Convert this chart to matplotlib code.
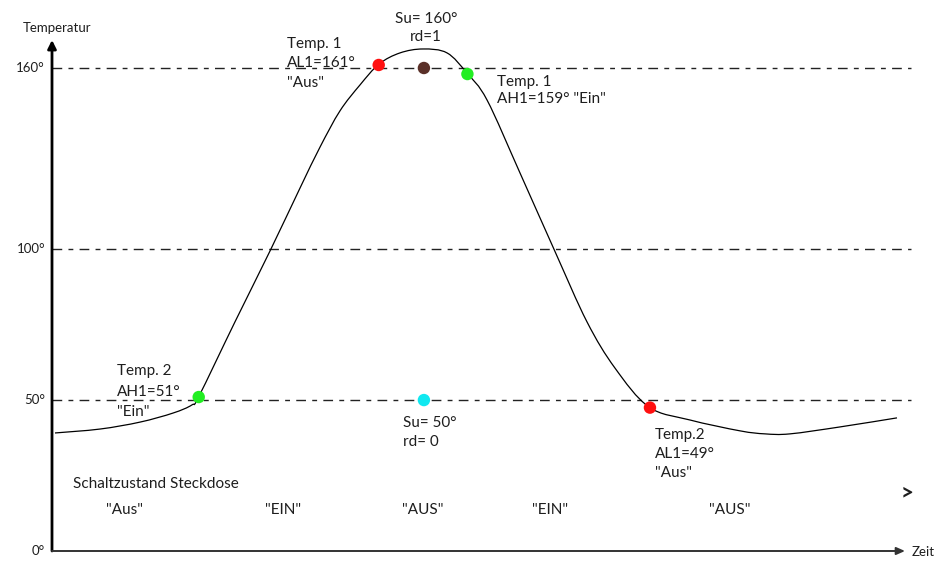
import matplotlib
matplotlib.use("Agg")
import matplotlib.pyplot as plt
from matplotlib.path import Path
from matplotlib.patches import PathPatch

# ---------------- data ----------------
# temperature curve (time in arbitrary units 0..100, temperature in degrees)
time_pts = [0.35, 5.63, 10.32, 14.19, 16.41, 17.23, 21.45, 25.56, 29.07, 31.42, 33.76, 36.11,
            38.34, 40.80, 43.49, 46.31, 48.65, 51.00, 54.87, 58.97, 62.72, 66.00,
            69.99, 74.79, 80.66, 83.59, 86.52, 92.38, 99.06]
temp_pts = [39.1, 40.4, 42.7, 45.7, 48.4, 51.3, 75.9, 99.4, 120.2, 133.8, 145.8, 154.4,
            161.3, 165.0, 166.3, 165.0, 158.3, 149.4, 125.2, 99.2, 75.9, 60.6,
            47.7, 43.4, 39.8, 38.8, 38.8, 41.1, 44.1]

# switching points
marker_time = [38.3, 43.6, 48.7, 17.2, 70.1, 43.6]
marker_temp = [161.0, 160.0, 158.0, 51.0, 47.5, 50.0]
marker_colors = ["#ff1010", "#5a3028", "#22ee22", "#22ee22", "#ff1010", "#10e8f0"]

# reference levels (dash-dot lines) and y tick labels
level_vals = [50, 100, 160]
ytick_vals = [0, 50, 100, 160]
ytick_labels = ["0°", "50°", "100°", "160°"]

# state labels
state_labels = ['"Aus"', '"EIN"', '"AUS"', '"EIN"', '"AUS"']

# ---------------- figure ----------------
W, H = 945, 562
fig = plt.figure(figsize=(W / 100, H / 100), dpi=100)
ax = fig.add_axes([0, 0, 1, 1])
ax.set_axis_off()

# pixel mapping: t=0 -> x 52px, t=100 -> x 905px ; T=0 -> y 551px, T=160 -> y 68px
sx = (905 - 52) / 100.0
sy = (551 - 68) / 160.0
ax.set_xlim(-52 / sx, (W - 52) / sx)
ax.set_ylim(-(H - 551) / sy, 551 / sy)

FONT = "Lato"
TXT = "#1e1e1e"
FS = 11

def ftext(px, py, s, ha="left", va="center", **kw):
    fig.text(px / W, 1 - py / H, s, ha=ha, va=va, family=FONT,
             fontsize=kw.pop("fontsize", FS), color=kw.pop("color", TXT),
             fontweight=kw.pop("fontweight", "normal"), **kw)

# reference lines
x_end = (911 - 52) / sx
for lv in level_vals:
    ax.plot([0, x_end], [lv, lv], color="#222222", lw=1.0,
            dashes=(7, 4.5, 3.5, 4.5), solid_capstyle="butt", zorder=1)

# axes arrows
ax.annotate("", xy=(0, (551 - 40) / sy), xytext=(0, 0),
            arrowprops=dict(arrowstyle="-|>,head_length=0.5,head_width=0.25", lw=2.0,
                            color="black", shrinkA=0, shrinkB=0), zorder=3)
ax.annotate("", xy=(100, 0), xytext=(0, 0),
            arrowprops=dict(arrowstyle="-|>,head_length=0.5,head_width=0.22", lw=1.4,
                            color="#333333", shrinkA=0, shrinkB=0), zorder=3)

# smooth curve through the read points (Catmull-Rom as cubic Bezier path)
verts = [(time_pts[0], temp_pts[0])]
codes = [Path.MOVETO]
n = len(time_pts)
for i in range(n - 1):
    p0 = (time_pts[max(i - 1, 0)], temp_pts[max(i - 1, 0)])
    p1 = (time_pts[i], temp_pts[i])
    p2 = (time_pts[i + 1], temp_pts[i + 1])
    p3 = (time_pts[min(i + 2, n - 1)], temp_pts[min(i + 2, n - 1)])
    c1 = (p1[0] + (p2[0] - p0[0]) / 6, p1[1] + (p2[1] - p0[1]) / 6)
    c2 = (p2[0] - (p3[0] - p1[0]) / 6, p2[1] - (p3[1] - p1[1]) / 6)
    verts += [c1, c2, p2]
    codes += [Path.CURVE4] * 3
ax.add_patch(PathPatch(Path(verts, codes), fill=False, ec="black", lw=0.9, zorder=2))

# markers
ax.scatter(marker_time, marker_temp, s=80, c=marker_colors, zorder=4, linewidths=0)

# y tick labels
for v, lab in zip(ytick_vals, ytick_labels):
    ax.text(-7 / sx, v, lab, ha="right", va="center", family=FONT, fontsize=FS - 1.5,
            color=TXT)

# axis titles
ftext(57, 28, "Temperatur", ha="center", fontsize=FS - 1.5)
ftext(912, 552, "Zeit", fontsize=FS - 1.5)

# annotations
ftext(426, 19, "Su= 160°", ha="center")
ftext(426, 37, "rd=1", ha="center")

ftext(287, 44, "Temp. 1")
ftext(287, 63, "AL1=161°")
ftext(287, 83, '"Aus"')

ftext(497, 82, "Temp. 1")
ftext(497, 99, 'AH1=159° "Ein"')

ftext(117, 371, "Temp. 2")
ftext(117, 392, "AH1=51°")
ftext(117, 412, '"Ein"')

ftext(403, 423, "Su= 50°")
ftext(403, 442, "rd= 0")

ftext(655, 435, "Temp.2")
ftext(655, 454, "AL1=49°")
ftext(655, 473, '"Aus"')

ftext(73, 484, "Schaltzustand Steckdose")
for px, lab in zip([125, 283, 423, 550, 730], state_labels):
    ftext(px, 510, lab, ha="center")
ftext(907, 493, ">", fontsize=16, fontweight="bold", ha="center")

fig.savefig("out.png", dpi=100)
